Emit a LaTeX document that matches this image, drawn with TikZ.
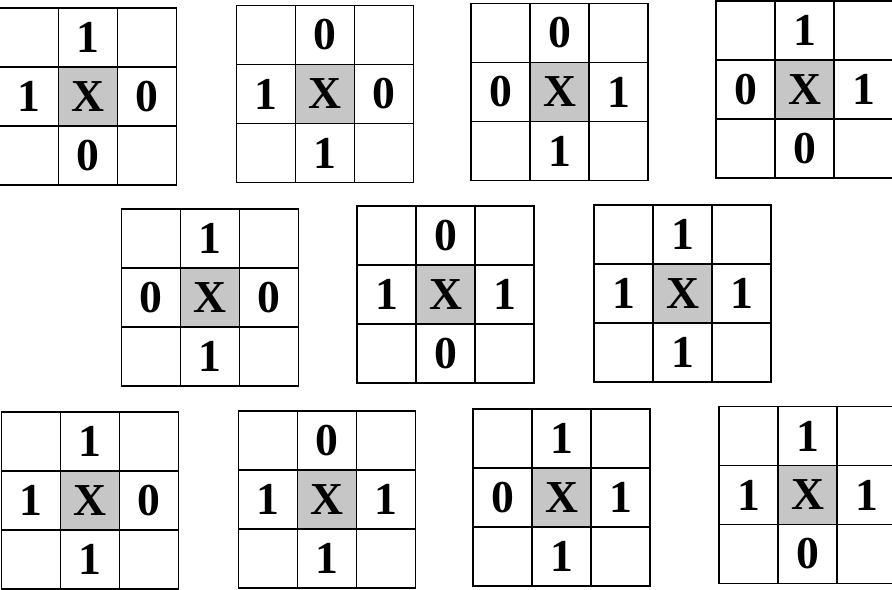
\documentclass[tikz,border=0pt]{standalone}
\usepackage{fontspec}
\setmainfont{Liberation Serif}
\usetikzlibrary{positioning}
\tikzset{
    cell/.style={rectangle, draw=black, line width=1.1pt, minimum size=1.18cm, inner sep=0pt, outer sep=0pt, font=\fontsize{26}{26}\selectfont\bfseries},
    centre/.style={cell, fill=gray!45},
}
% one 3x3 window: name, x, y, top, left, right, bottom
\newcommand{\maskgrid}[7]{%
    \node[centre] (#1c) at (#2,#3) {X};
    \node[cell, above=0pt of #1c] (#1n) {#4};
    \node[cell, left=0pt of #1c] (#1w) {#5};
    \node[cell, right=0pt of #1c] (#1e) {#6};
    \node[cell, below=0pt of #1c] (#1s) {#7};
    \node[cell, left=0pt of #1n] (#1nw) {};
    \node[cell, right=0pt of #1n] (#1ne) {};
    \node[cell, left=0pt of #1s] (#1sw) {};
    \node[cell, right=0pt of #1s] (#1se) {};
}
\begin{document}
\begin{tikzpicture}[x=0.02cm, y=-0.02cm]
    \clip (0,0) rectangle (892,590);
    \fill[white] (0,0) rectangle (892,590);
    % top row
    \maskgrid{ga}{88}{96.5}{1}{1}{0}{0}
    \maskgrid{gb}{325}{94}{0}{1}{0}{1}
    \maskgrid{gc}{559.5}{92}{0}{0}{1}{1}
    \maskgrid{gd}{804.5}{89.5}{1}{0}{1}{0}
    % middle row
    \maskgrid{ge}{210}{297.5}{1}{0}{0}{1}
    \maskgrid{gf}{445.5}{294.5}{0}{1}{1}{0}
    \maskgrid{gg}{682.5}{293.5}{1}{1}{1}{1}
    % bottom row
    \maskgrid{gh}{90}{500.5}{1}{1}{0}{1}
    \maskgrid{gi}{327}{499.5}{0}{1}{1}{1}
    \maskgrid{gj}{561.5}{497.5}{1}{0}{1}{1}
    \maskgrid{gk}{807.5}{495}{1}{1}{1}{0}
\end{tikzpicture}
\end{document}
